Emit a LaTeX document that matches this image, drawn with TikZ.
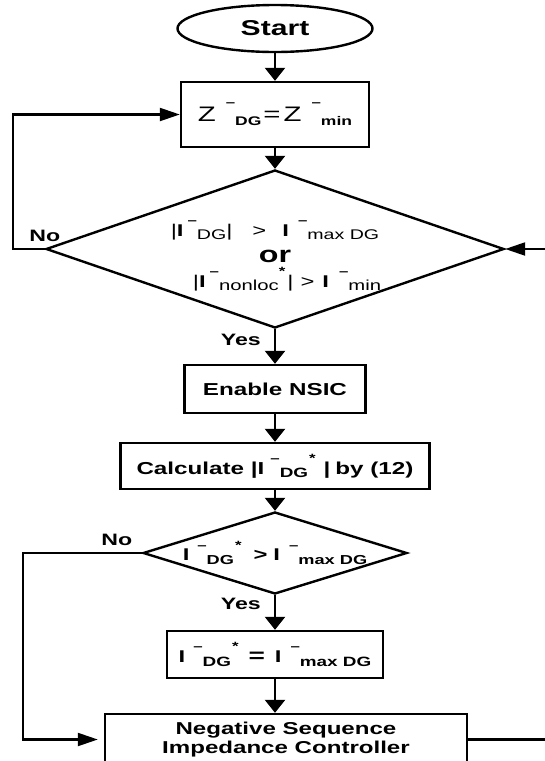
\documentclass[tikz,border=0pt]{standalone}
\usepackage{fontspec}
\newfontfamily\flowfont[FakeStretch=1.4]{Liberation Sans}
\usetikzlibrary{arrows.meta,shapes.geometric}
\newcommand{\nsup}[2][11]{\raisebox{0.68em}{\fontsize{#1}{#1}\selectfont\bfseries #2}}
\newcommand{\nsub}[2][11]{\raisebox{-0.22em}{\fontsize{#1}{#1}\selectfont #2}}

\begin{document}
\begin{tikzpicture}[x=1pt,y=-1pt,line width=2.4pt,
  font=\flowfont\bfseries\fontsize{16.5}{19}\selectfont,
  term/.style={draw,ellipse,inner sep=0pt,minimum width=195pt,minimum height=47pt,
    font=\flowfont\bfseries\fontsize{21.5}{24}\selectfont},
  blk/.style={draw,rectangle,inner sep=0pt,align=center},
  dec/.style={draw,diamond,inner sep=0pt,aspect=2.9},
  lbl/.style={inner sep=0pt},
  varr/.style={-{Triangle[width=20pt,length=13pt]}},
  harr/.style={line width=2.2pt,-{Triangle[width=13pt,length=20pt]}}]

  \useasboundingbox (0,0) rectangle (545,761);
  \clip (0,0) rectangle (545,761);

  \node[term] (start) at (275,28.5) {Start};
  \node[blk,minimum width=188pt,minimum height=65pt] (zdg) at (275,114.5)
    {\mdseries\fontsize{21}{24}\selectfont Z\hspace{10pt}\nsup[12]{\textendash}\nsub[12.5]{\bfseries DG}\hspace{2pt}=\hspace{3pt}Z\hspace{10pt}\nsup[12]{\textendash}\nsub[12.5]{\bfseries min}};

  \node[dec,minimum width=458pt,minimum height=158pt] (chk1) at (275,249) {};
  \node[align=center,font=\flowfont\mdseries\fontsize{17}{22}\selectfont] (chk1txt) at (275,256)
    {|\textbf{I}\hspace{4pt}\nsup[12]{\textendash}\nsub[14]{DG}|\hspace{20pt}>\hspace{16pt}\textbf{I}\hspace{9pt}\nsup[12]{\textendash}\nsub[14]{max DG}\\[4pt]
     {\bfseries\fontsize{23}{24}\selectfont or}\\[3pt]
     \hspace*{24pt}|\textbf{I}\hspace{4pt}\nsup[12]{\textendash}\nsub[14.5]{nonloc}\nsup[12]{*}\hspace{2pt}|\hspace{7pt}>\hspace{8pt}\textbf{I}\hspace{10pt}\nsup[12]{\textendash}\nsub[14.5]{min}};

  \node[blk,minimum width=181pt,minimum height=48pt,font=\flowfont\bfseries\fontsize{17.3}{20}\selectfont]
    (nsic) at (275,389) {Enable NSIC};
  \node[blk,minimum width=309pt,minimum height=46pt,font=\flowfont\bfseries\fontsize{17.3}{20}\selectfont]
    (calc) at (275,466) {Calculate |I\hspace{6pt}\nsup[12]{\textendash}\nsub[13.5]{DG}\hspace{1pt}\nsup[12]{*}\hspace{8pt}|\hspace{5pt}by (12)};

  \node[dec,minimum width=264pt,minimum height=82pt,aspect=3.2,font=\flowfont\bfseries\fontsize{17}{20}\selectfont]
    (chk2) at (275,553)
    {\makebox[0pt]{I\hspace{8pt}\nsup[12]{\textendash}\nsub[13]{DG}\hspace{1pt}\nsup[12]{*}\hspace{12pt}>\hspace{6pt}I\hspace{9pt}\nsup[12]{\textendash}\nsub[13]{max DG}}};

  \node[blk,minimum width=216pt,minimum height=47pt,font=\flowfont\bfseries\fontsize{17}{20}\selectfont]
    (lim) at (275,654.5)
    {I\hspace{8pt}\nsup[12]{\textendash}\nsub[13.5]{DG}\hspace{1pt}\nsup[12]{*}\hspace{10pt}{\fontsize{20}{20}\selectfont=}\hspace{10pt}I\hspace{9pt}\nsup[12]{\textendash}\nsub[13.5]{max DG}};
  \node[blk,minimum width=362pt,minimum height=51pt,font=\flowfont\bfseries\fontsize{17.2}{19}\selectfont]
    (nsc) at (286,739.5) {Negative Sequence\\Impedance Controller};

  % loop corners
  \coordinate (lp1) at (13,249);
  \coordinate (lp2) at (23,553);
  \coordinate (rp) at (600,0);

  \draw[varr] (start) -- (zdg);
  \draw[varr] (zdg) -- (chk1);
  \draw[varr] (chk1) -- node[lbl,pos=0.3,left=13pt] (yes1) {Yes} (nsic);
  \draw[varr] (nsic) -- (calc);
  \draw[varr] (calc) -- (chk2);
  \draw[varr] (chk2) -- node[lbl,pos=0.25,left=13pt] (yes2) {Yes} (lim);
  \draw[varr] (lim) -- (lim |- nsc.north);

  \draw[harr] (chk1.west) -- node[lbl,pos=0,above=6pt] (no1) {No} (lp1) |- (zdg.west);
  \draw[harr,shorten >=6pt] (chk2.west) -- node[lbl,pos=0.21,above=6pt] (no2) {No} (lp2) |- (nsc.west);
  \draw[harr] (nsc.east) -- (nsc.east -| rp) |- (chk1.east);
\end{tikzpicture}
\end{document}
